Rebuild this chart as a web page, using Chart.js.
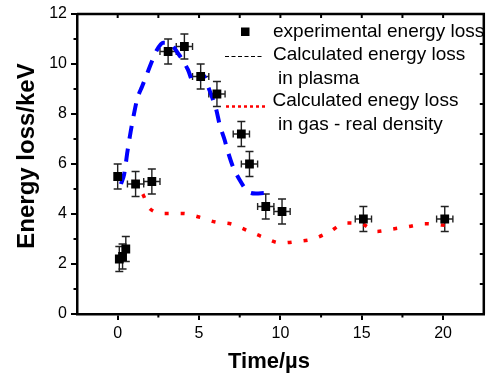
<!DOCTYPE html>
<html>
<head>
<meta charset="utf-8">
<script src="https://cdn.jsdelivr.net/npm/chart.js@4.4.1/dist/chart.umd.min.js"></script>
<style>
  html, body { margin: 0; padding: 0; background: #fff; }
  #wrap { width: 490px; height: 378px; position: relative; }
</style>
</head>
<body>
<div id="wrap"><canvas id="energy-loss"></canvas></div>
<script>
// Experimental energy loss (time in us, loss in keV) with error bars
const timeExp = [0, 0.1, 0.3, 0.5, 1.1, 2.1, 3.1, 4.1, 5.1, 6.1, 7.6, 8.1, 9.1, 10.1, 15.1, 20.1];
const lossExp = [5.5, 2.2, 2.3, 2.6, 5.2, 5.3, 10.5, 10.7, 9.5, 8.8, 7.2, 6.0, 4.3, 4.1, 3.8, 3.8];
const timeErr = [0, 0, 0, 0, 0.5, 0.5, 0.5, 0.5, 0.5, 0.5, 0.5, 0.5, 0.5, 0.5, 0.5, 0.5];
const lossErr = [0.5, 0.5, 0.5, 0.5, 0.5, 0.5, 0.5, 0.5, 0.5, 0.5, 0.5, 0.5, 0.5, 0.5, 0.5, 0.5];

// Calculated energy loss in plasma (blue dashed)
const timePlasma = [0.2, 0.4, 0.6, 0.8, 1.0, 1.2, 1.5, 1.8, 2.1, 2.4, 2.8, 3.2, 3.77, 4.32, 4.63, 4.9, 5.2, 5.55, 5.86, 6.06, 6.27, 6.57, 6.8, 7.08, 7.49, 8.0, 8.5, 8.98];
const lossPlasma = [5.2, 5.6, 6.5, 7.3, 8.0, 8.6, 9.1, 9.6, 10.1, 10.55, 10.85, 10.82, 10.37, 9.77, 9.3, 9.3, 9.6, 9.1, 8.57, 8.17, 7.57, 6.97, 6.44, 5.9, 5.37, 4.9, 4.82, 4.84];

// Calculated energy loss in gas - real density (red dotted)
const timeGas = [0.1, 0.9, 1.5, 2.0, 3.0, 4.0, 5.0, 6.0, 7.0, 8.0, 9.0, 10.0, 11.0, 12.0, 13.0, 14.0, 15.0, 15.9, 16.9, 17.9, 18.9, 19.9, 20.8];
const lossGas = [5.5, 5.4, 4.85, 4.2, 4.02, 4.02, 3.88, 3.68, 3.6, 3.33, 3.06, 2.84, 2.9, 3.0, 3.28, 3.64, 3.6, 3.3, 3.4, 3.5, 3.61, 3.56, 3.5];

const xTickValues = [0, 5, 10, 15, 20];
const xMinorValues = [2.5, 7.5, 12.5, 17.5];
const xTopValues = [0, 2.5, 5, 7.5, 10, 12.5, 15, 17.5, 20];
const yMinorValues = [1, 3, 5, 7, 9, 11];
const rightTickValues = [1, 2, 3, 4, 5, 6, 7, 8, 9];

const FONT = "'Liberation Sans', Arial, Helvetica, sans-serif";
Chart.defaults.font.family = FONT;
Chart.defaults.color = '#000';

function pairs(xs, ys) {
    return xs.map((x, i) => ({ x: x, y: ys[i] }));
}

// Error bars, frame, extra ticks, legend and axis titles
const decorations = {
    id: 'decorations',
    beforeDatasetsDraw(chart) {
        const ctx = chart.ctx;
        const xs = chart.scales.x, ys = chart.scales.y;
        ctx.save();
        ctx.strokeStyle = '#222';
        ctx.lineWidth = 1.4;
        timeExp.forEach((t, i) => {
            const px = xs.getPixelForValue(t);
            const py = ys.getPixelForValue(lossExp[i]);
            const yTop = ys.getPixelForValue(lossExp[i] + lossErr[i]);
            const yBot = ys.getPixelForValue(lossExp[i] - lossErr[i]);
            ctx.beginPath();
            ctx.moveTo(px, yTop); ctx.lineTo(px, yBot);
            ctx.moveTo(px - 4, yTop); ctx.lineTo(px + 4, yTop);
            ctx.moveTo(px - 4, yBot); ctx.lineTo(px + 4, yBot);
            if (timeErr[i] > 0) {
                const xL = xs.getPixelForValue(t - timeErr[i]);
                const xR = xs.getPixelForValue(t + timeErr[i]);
                ctx.moveTo(xL, py); ctx.lineTo(xR, py);
                ctx.moveTo(xL, py - 3.5); ctx.lineTo(xL, py + 3.5);
                ctx.moveTo(xR, py - 3.5); ctx.lineTo(xR, py + 3.5);
            }
            ctx.stroke();
        });
        ctx.restore();
    },
    afterDraw(chart) {
        const ctx = chart.ctx;
        const area = chart.chartArea;
        const xs = chart.scales.x, ys = chart.scales.y, y2 = chart.scales.y2;
        ctx.save();
        ctx.strokeStyle = '#000';

        // top and right frame
        ctx.lineWidth = 2.5;
        ctx.beginPath();
        ctx.moveTo(area.left, area.top);
        ctx.lineTo(area.right, area.top);
        ctx.lineTo(area.right, area.bottom);
        ctx.stroke();

        ctx.lineWidth = 2;
        ctx.beginPath();
        xMinorValues.forEach(v => {
            const px = xs.getPixelForValue(v);
            ctx.moveTo(px, area.bottom); ctx.lineTo(px, area.bottom + 3.5);
        });
        xTopValues.forEach(v => {
            const px = xs.getPixelForValue(v);
            ctx.moveTo(px, area.top); ctx.lineTo(px, area.top + 4);
        });
        yMinorValues.forEach(v => {
            const py = ys.getPixelForValue(v);
            ctx.moveTo(area.left, py); ctx.lineTo(area.left - 3.5, py);
        });
        rightTickValues.forEach(v => {
            const py = y2.getPixelForValue(v);
            ctx.moveTo(area.right, py); ctx.lineTo(area.right - 4, py);
        });
        ctx.stroke();

        // legend
        ctx.fillStyle = '#000';
        ctx.fillRect(241, 27.5, 8.5, 8.5);

        ctx.lineWidth = 1.2;
        ctx.setLineDash([4, 2.5]);
        ctx.beginPath();
        ctx.moveTo(225, 56.5); ctx.lineTo(262, 56.5);
        ctx.stroke();

        ctx.strokeStyle = '#ff0000';
        ctx.lineWidth = 2.5;
        ctx.setLineDash([3, 3]);
        ctx.beginPath();
        ctx.moveTo(226, 106.5); ctx.lineTo(266, 106.5);
        ctx.stroke();
        ctx.setLineDash([]);

        ctx.font = '19px ' + FONT;
        ctx.textAlign = 'left';
        ctx.textBaseline = 'middle';
        ctx.fillText('experimental energy loss', 273, 31.5);
        ctx.fillText('Calculated energy loss', 273, 55);
        ctx.fillText('in plasma', 278, 79);
        ctx.fillText('Calculated enegy loss', 272.5, 101);
        ctx.fillText('in gas - real density', 278, 125);

        // axis titles
        ctx.font = 'bold 22px ' + FONT;
        ctx.textAlign = 'center';
        ctx.textBaseline = 'alphabetic';
        ctx.fillText('Time/\u00b5s', 269, 368);
        ctx.font = 'bold 24px ' + FONT;
        ctx.translate(34, 156);
        ctx.rotate(-Math.PI / 2);
        ctx.fillText('Energy loss/keV', 0, 0);
        ctx.restore();
    }
};

new Chart(document.getElementById('energy-loss'), {
    type: 'scatter',
    data: {
        datasets: [
            {
                label: 'experimental energy loss',
                data: pairs(timeExp, lossExp),
                pointStyle: 'rect',
                pointRadius: 6.2,
                backgroundColor: '#000',
                borderColor: '#000',
                borderWidth: 0,
                showLine: false
            },
            {
                label: 'Calculated energy loss in plasma',
                data: pairs(timePlasma, lossPlasma),
                showLine: true,
                pointRadius: 0,
                borderColor: '#0000ff',
                borderWidth: 4,
                borderDash: [13, 10],
                cubicInterpolationMode: 'monotone',
                fill: false
            },
            {
                label: 'Calculated enegy loss in gas - real density',
                data: pairs(timeGas, lossGas),
                showLine: true,
                pointRadius: 0,
                borderColor: '#ff0000',
                borderWidth: 3.5,
                borderDash: [4, 12],
                cubicInterpolationMode: 'monotone',
                fill: false
            }
        ]
    },
    options: {
        responsive: true,
        maintainAspectRatio: false,
        animation: false,
        layout: { padding: { top: 14, right: 4, left: 0, bottom: 0 } },
        plugins: {
            legend: { display: false },
            tooltip: { enabled: false }
        },
        scales: {
            x: {
                type: 'linear',
                min: -2.5,
                max: 22.5,
                afterBuildTicks: s => { s.ticks = xTickValues.map(v => ({ value: v })); },
                afterFit: s => { s.height = 64; },
                grid: { drawOnChartArea: false, drawTicks: true, tickLength: 6, color: '#000', lineWidth: 2 },
                border: { display: true, color: '#000', width: 2.5 },
                ticks: { font: { size: 16 }, color: '#000', padding: 4, maxRotation: 0 }
            },
            y: {
                type: 'linear',
                min: 0,
                max: 12,
                afterFit: s => { s.width = 77; },
                grid: { drawOnChartArea: false, drawTicks: true, tickLength: 6, color: '#000', lineWidth: 2 },
                border: { display: true, color: '#000', width: 2.5 },
                ticks: { stepSize: 2, font: { size: 16 }, color: '#000', padding: 4 }
            },
            y2: {
                type: 'linear',
                display: false,
                position: 'right',
                min: 0,
                max: 10
            }
        }
    },
    plugins: [decorations]
});
</script>
</body>
</html>
